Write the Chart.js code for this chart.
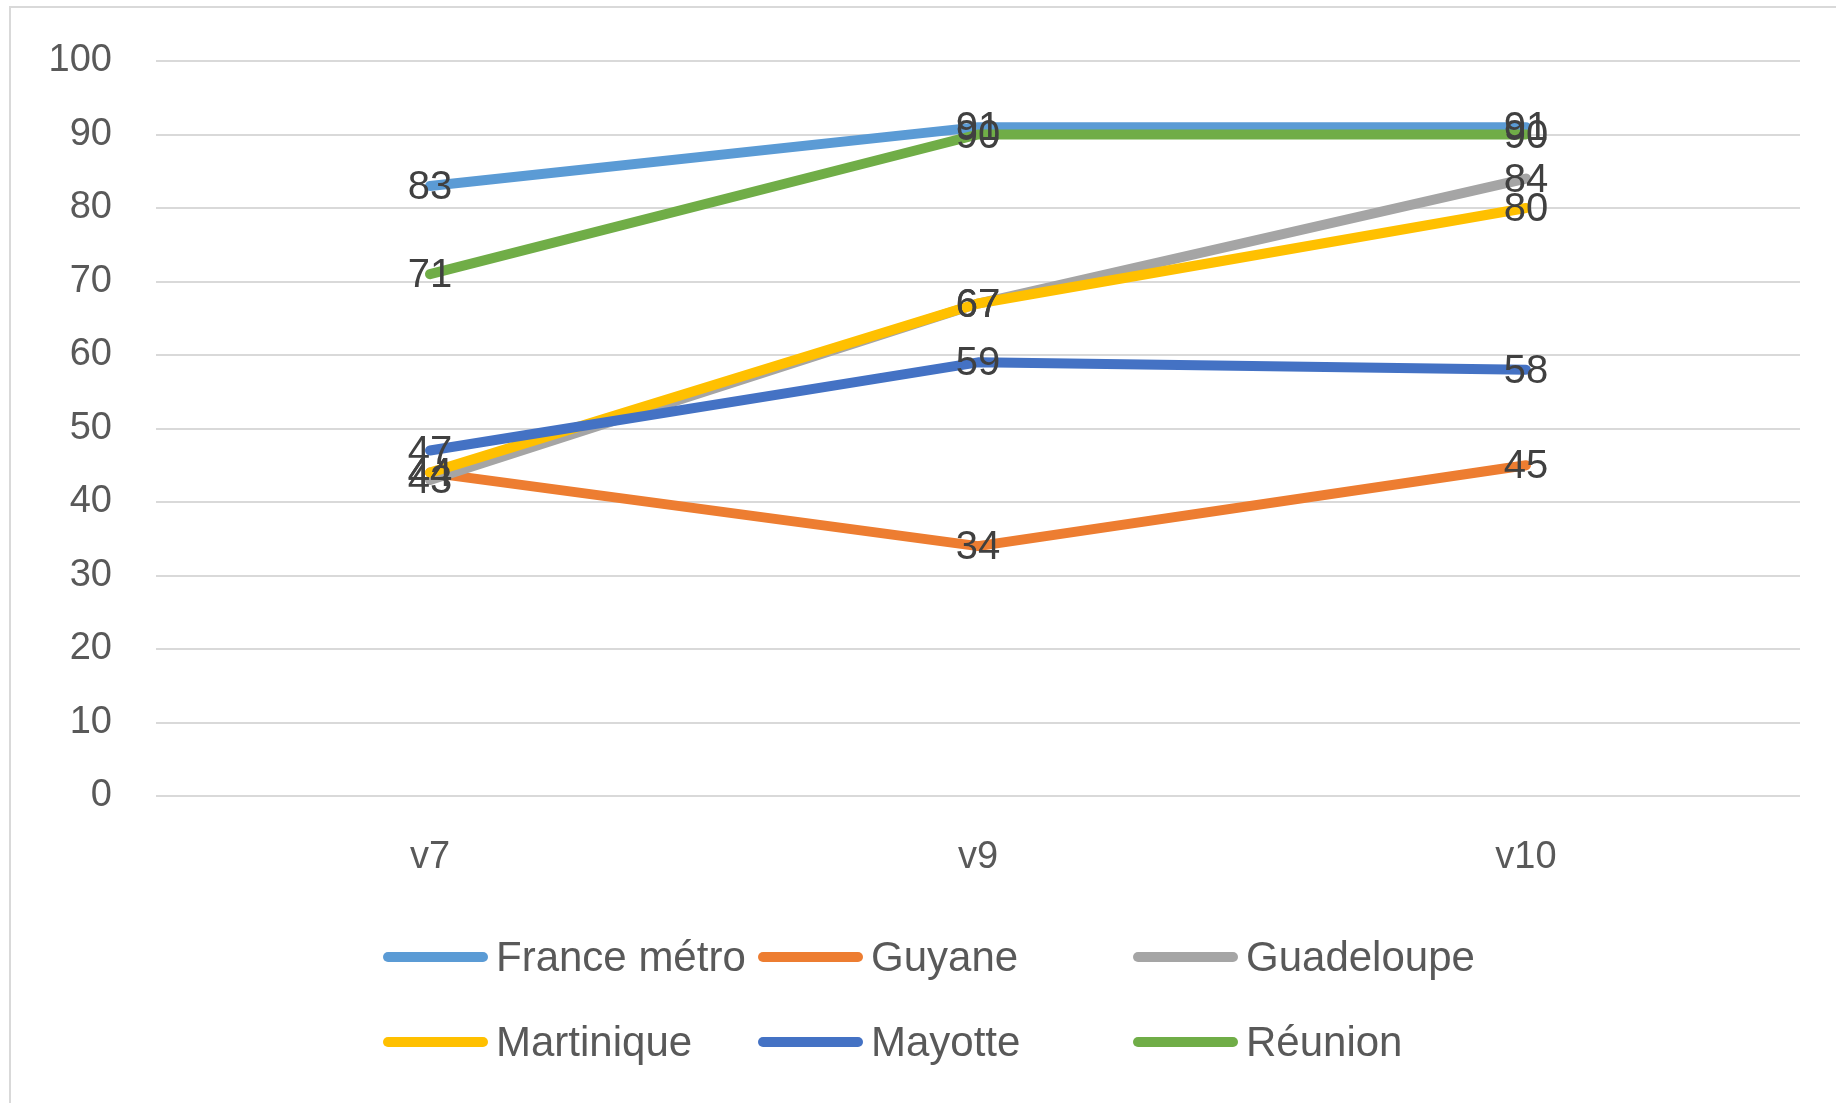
<!DOCTYPE html>
<html>
<head>
<meta charset="utf-8">
<script src="https://cdn.jsdelivr.net/npm/chart.js@4.4.1/dist/chart.umd.min.js"></script>
<style>
  html, body { margin: 0; padding: 0; background: #fff; }
  canvas { display: block; }
</style>
</head>
<body>
<canvas id="chart" width="1836" height="1103"></canvas>
<script>
// Versions compared
const versions = ['v7', 'v9', 'v10'];

// Score per territory and version
const franceMetro = [83, 91, 91];
const guyane      = [44, 34, 45];
const guadeloupe  = [43, 67, 84];
const martinique  = [44, 67, 80];
const mayotte     = [47, 59, 58];
const reunion     = [71, 90, 90];

const yTicks = { min: 0, max: 100, step: 10 };

const FONT = '"Liberation Sans", Arial, sans-serif';

const series = [
  { label: 'France métro', data: franceMetro, color: '#5B9BD5' },
  { label: 'Guyane',       data: guyane,      color: '#ED7D31' },
  { label: 'Guadeloupe',   data: guadeloupe,  color: '#A5A5A5' },
  { label: 'Martinique',   data: martinique,  color: '#FFC000' },
  { label: 'Mayotte',      data: mayotte,     color: '#4472C4' },
  { label: 'Réunion',      data: reunion,     color: '#70AD47' }
];

// White page with a thin frame on top and left
const framePlugin = {
  id: 'frame',
  beforeDraw(chart) {
    const { ctx, width, height } = chart;
    ctx.save();
    ctx.fillStyle = '#ffffff';
    ctx.fillRect(0, 0, width, height);
    ctx.strokeStyle = '#d9d9d9';
    ctx.lineWidth = 2;
    ctx.beginPath();
    ctx.moveTo(width, 7);
    ctx.lineTo(10, 7);
    ctx.lineTo(10, height);
    ctx.stroke();
    ctx.restore();
  }
};

// Value written over each point
const valueLabels = {
  id: 'valueLabels',
  afterDatasetsDraw(chart) {
    const { ctx } = chart;
    ctx.save();
    ctx.font = `40px ${FONT}`;
    ctx.fillStyle = '#404040';
    ctx.textAlign = 'center';
    ctx.textBaseline = 'middle';
    chart.data.datasets.forEach((ds, i) => {
      chart.getDatasetMeta(i).data.forEach((pt, j) => {
        ctx.fillText(String(ds.data[j]), pt.x, pt.y + 2);
      });
    });
    ctx.restore();
  }
};

// Two-row legend with fixed columns
const gridLegend = {
  id: 'gridLegend',
  afterDraw(chart) {
    const { ctx } = chart;
    const cols = [383, 758, 1133];
    const rows = [957, 1042];
    ctx.save();
    ctx.font = `42px ${FONT}`;
    ctx.fillStyle = '#595959';
    ctx.textAlign = 'left';
    ctx.textBaseline = 'middle';
    ctx.lineCap = 'round';
    chart.data.datasets.forEach((ds, i) => {
      const x = cols[i % 3];
      const y = rows[Math.floor(i / 3)];
      ctx.strokeStyle = ds.borderColor;
      ctx.lineWidth = 10;
      ctx.beginPath();
      ctx.moveTo(x + 5, y);
      ctx.lineTo(x + 100, y);
      ctx.stroke();
      ctx.fillText(ds.label, x + 113, y + 2);
    });
    ctx.restore();
  }
};

new Chart(document.getElementById('chart'), {
  type: 'line',
  data: {
    labels: versions,
    // later series are painted over earlier ones
    datasets: series.map((s, i) => ({
      label: s.label,
      data: s.data,
      order: series.length - i,
      borderColor: s.color,
      backgroundColor: s.color,
      borderWidth: 10,
      borderCapStyle: 'round',
      borderJoinStyle: 'round',
      pointRadius: 0,
      tension: 0,
      fill: false
    }))
  },
  options: {
    responsive: false,
    animation: false,
    layout: { padding: { top: 61, right: 36, bottom: 207, left: 0 } },
    plugins: {
      legend: { display: false },
      tooltip: { enabled: false }
    },
    scales: {
      x: {
        offset: true,
        grid: { display: false },
        border: { display: false },
        ticks: {
          color: '#595959',
          font: { family: FONT, size: 38 },
          padding: 31
        },
        afterFit(scale) { scale.height = 100; }
      },
      y: {
        min: yTicks.min,
        max: yTicks.max,
        grid: { color: '#d9d9d9', lineWidth: 2, drawTicks: false },
        border: { display: false },
        ticks: {
          stepSize: yTicks.step,
          color: '#595959',
          font: { family: FONT, size: 38 },
          padding: 44
        },
        afterFit(scale) {
          scale.width = 156;
          scale.paddingTop = 0;
          scale.paddingBottom = 0;
        }
      }
    }
  },
  plugins: [framePlugin, valueLabels, gridLegend]
});
</script>
</body>
</html>
